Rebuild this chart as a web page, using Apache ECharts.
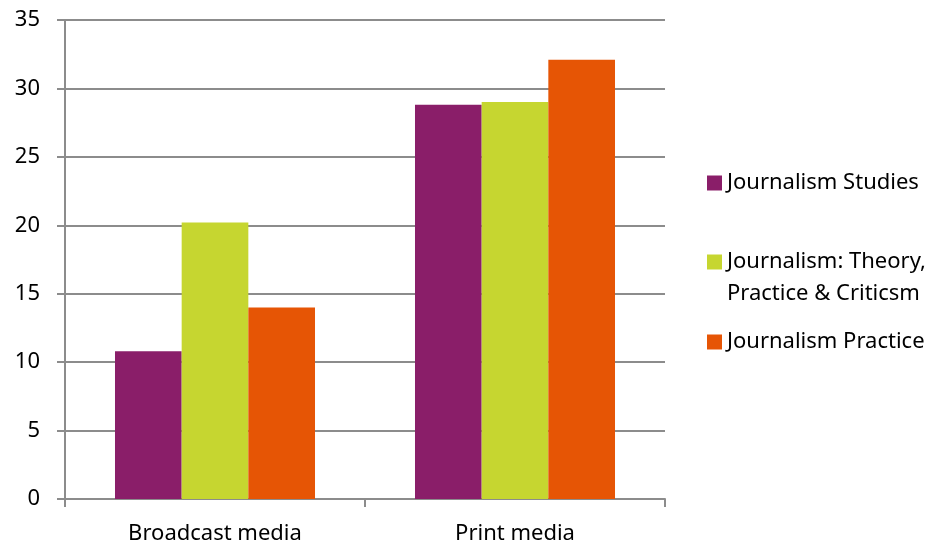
<!DOCTYPE html>
<html><head><meta charset="utf-8">
<script src="https://cdn.jsdelivr.net/npm/echarts@6/dist/echarts.min.js"></script>
<style>html,body{margin:0;padding:0;background:#fff}#c{width:936px;height:551px}</style>
</head><body><div id="c"></div>
<script>
const categories = ["Broadcast media", "Print media"];
const journalismStudies = [10.8, 28.8];
const journalismTheory = [20.2, 29.0];
const journalismPractice = [14.0, 32.1];
const yTicks = [0, 5, 10, 15, 20, 25, 30, 35];
const seriesNames = ["Journalism Studies", "Journalism: Theory, Practice & Criticsm", "Journalism Practice"];
const colors = ["#8A1E69", "#C6D630", "#E65505"];

const FONT = "Noto Sans";
const TXT = '#000000';
const chart = echarts.init(document.getElementById('c'), null, {renderer: 'canvas'});
function legendAt(name, top, lh) {
  return {
    data: [name], orient: 'vertical', left: 707, top: top, padding: 0,
    icon: 'rect', itemWidth: 15, itemHeight: 15, itemGap: 0,
    selectedMode: false,
    textStyle: {fontFamily: FONT, fontSize: 22, color: TXT, lineHeight: lh},
    formatter: function (n) {
      return n === seriesNames[1] ? '\u00a0\nJournalism: Theory,\nPractice & Criticsm' : n;
    }
  };
}
chart.setOption({
  animation: false,
  color: colors,
  grid: {left: 65, right: 271, top: 20, bottom: 52, containLabel: false},
  legend: [
    legendAt(seriesNames[0], 183 - 13, 26),
    legendAt(seriesNames[1], 262 - 48, 32),
    legendAt(seriesNames[2], 342 - 13, 26)
  ],
  xAxis: {
    type: 'category', data: categories,
    axisLine: {lineStyle: {color: '#8c8c8c', width: 2}},
    axisTick: {show: true, length: 8, lineStyle: {color: '#8c8c8c', width: 2}},
    axisLabel: {fontFamily: FONT, fontSize: 22, color: TXT, margin: 24}
  },
  yAxis: {
    type: 'value', min: 0, max: 35, interval: 5,
    axisLine: {show: true, lineStyle: {color: '#8c8c8c', width: 2}},
    axisTick: {show: true, length: 8, lineStyle: {color: '#8c8c8c', width: 2}},
    splitLine: {show: true, lineStyle: {color: '#8c8c8c', width: 2}},
    axisLabel: {fontFamily: FONT, fontSize: 22, color: TXT, margin: 25,
      formatter: function (v) { return yTicks.indexOf(v) >= 0 ? String(v) : ''; }}
  },
  series: [
    {name: seriesNames[0], type: 'bar', data: journalismStudies, barGap: '0%', barCategoryGap: '33.33%'},
    {name: seriesNames[1], type: 'bar', data: journalismTheory, barGap: '0%', barCategoryGap: '33.33%'},
    {name: seriesNames[2], type: 'bar', data: journalismPractice, barGap: '0%', barCategoryGap: '33.33%'}
  ]
});
</script></body></html>
